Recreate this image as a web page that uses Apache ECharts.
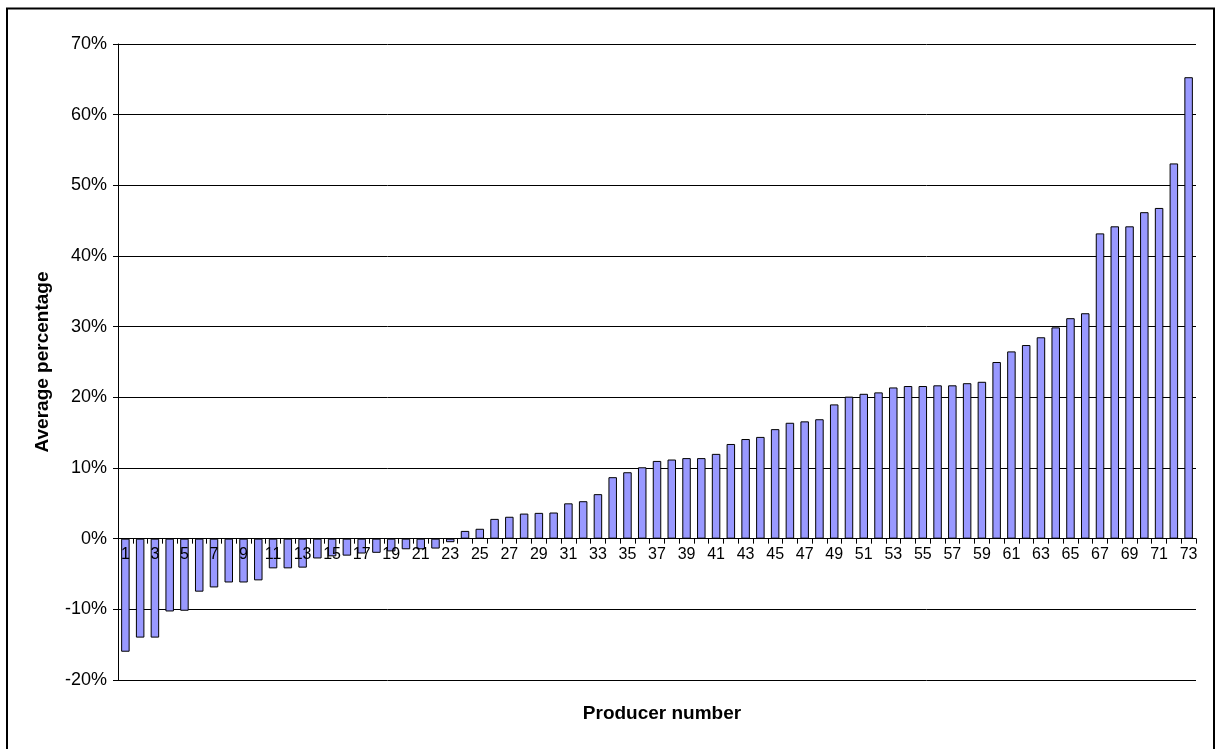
<!DOCTYPE html>
<html>
<head>
<meta charset="utf-8">
<script src="https://cdn.jsdelivr.net/npm/echarts@6/dist/echarts.min.js"></script>
<style>
  html, body { margin: 0; padding: 0; background: #fff; }
  #chart { width: 1218px; height: 749px; }
</style>
</head>
<body>
<div id="chart"></div>
<script>
// Producer numbers 1..73
const producers = [
  '1','2','3','4','5','6','7','8','9','10',
  '11','12','13','14','15','16','17','18','19','20',
  '21','22','23','24','25','26','27','28','29','30',
  '31','32','33','34','35','36','37','38','39','40',
  '41','42','43','44','45','46','47','48','49','50',
  '51','52','53','54','55','56','57','58','59','60',
  '61','62','63','64','65','66','67','68','69','70',
  '71','72','73'
];

// Average percentage per producer (%)
const averagePct = [
  -16.0, -14.0, -14.0, -10.3, -10.2, -7.5, -6.9, -6.2, -6.2, -5.9,
  -4.2, -4.2, -4.1, -2.8, -2.5, -2.4, -2.1, -2.0, -1.8, -1.5,
  -1.5, -1.4, -0.5, 1.1, 1.4, 2.8, 3.1, 3.55, 3.65, 3.7,
  5.0, 5.3, 6.3, 8.7, 9.4, 10.1, 11.0, 11.2, 11.4, 11.4,
  12.0, 13.4, 14.1, 14.4, 15.5, 16.4, 16.6, 16.9, 19.0, 20.1,
  20.5, 20.7, 21.4, 21.6, 21.6, 21.7, 21.7, 22.0, 22.2, 25.0,
  26.5, 27.4, 28.5, 29.9, 31.2, 31.9, 43.2, 44.2, 44.2, 46.2,
  46.8, 53.1, 65.3
];

// Value axis range
const yMin = -20;
const yMax = 70;
const yStep = 10;

const FONT = "'Liberation Sans', Arial, sans-serif";

// Plot box
const GRID = { left: 118, right: 22, top: 44, bottom: 69 };
const HEIGHT = 749;
const plotH = HEIGHT - GRID.top - GRID.bottom;
// Lift the category axis (line, ticks, labels) from the bottom edge up to the 0% level
const zeroLift = -plotH * (0 - yMin) / (yMax - yMin);

const chart = echarts.init(document.getElementById('chart'), null, { renderer: 'canvas' });

chart.setOption({
  animation: false,
  backgroundColor: '#ffffff',
  textStyle: { fontFamily: FONT, color: '#000' },
  grid: { left: GRID.left, right: GRID.right, top: GRID.top, bottom: GRID.bottom, containLabel: false },
  title: {
    text: 'Producer number',
    left: 657,
    top: 699,
    textAlign: 'center',
    textStyle: { fontFamily: FONT, fontSize: 19, fontWeight: 'bold', color: '#000' }
  },
  graphic: [{
    type: 'rect',
    shape: { x: 7, y: 8.5, width: 1207, height: 745 },
    style: { fill: 'none', stroke: '#000', lineWidth: 2 },
    silent: true
  }],
  xAxis: {
    type: 'category',
    data: producers,
    boundaryGap: true,
    position: 'bottom',
    offset: zeroLift,
    z: 5,
    axisLine: { onZero: false, lineStyle: { color: '#000', width: 1 } },
    axisTick: { show: true, interval: 0, alignWithLabel: false, length: 5, inside: false,
                lineStyle: { color: '#000' } },
    axisLabel: { interval: 1, margin: 8, fontSize: 16, color: '#000', fontFamily: FONT },
    splitLine: { show: false }
  },
  yAxis: {
    type: 'value',
    min: yMin,
    max: yMax,
    interval: yStep,
    name: 'Average percentage',
    nameLocation: 'middle',
    nameRotate: 90,
    nameGap: 66,
    nameTextStyle: { fontFamily: FONT, fontSize: 19, fontWeight: 'bold', color: '#000' },
    axisLine: { show: true, lineStyle: { color: '#000', width: 1 } },
    axisTick: { show: true, length: 5, inside: false, lineStyle: { color: '#000' } },
    axisLabel: { formatter: '{value}%', fontSize: 18, margin: 11, color: '#000', fontFamily: FONT },
    splitLine: { show: true, lineStyle: { color: '#000', width: 1 } }
  },
  series: [{
    type: 'bar',
    data: averagePct,
    barWidth: 8.5,
    z: 2,
    itemStyle: { color: '#9999FF', borderColor: '#000', borderWidth: 1 }
  }]
});
</script>
</body>
</html>
